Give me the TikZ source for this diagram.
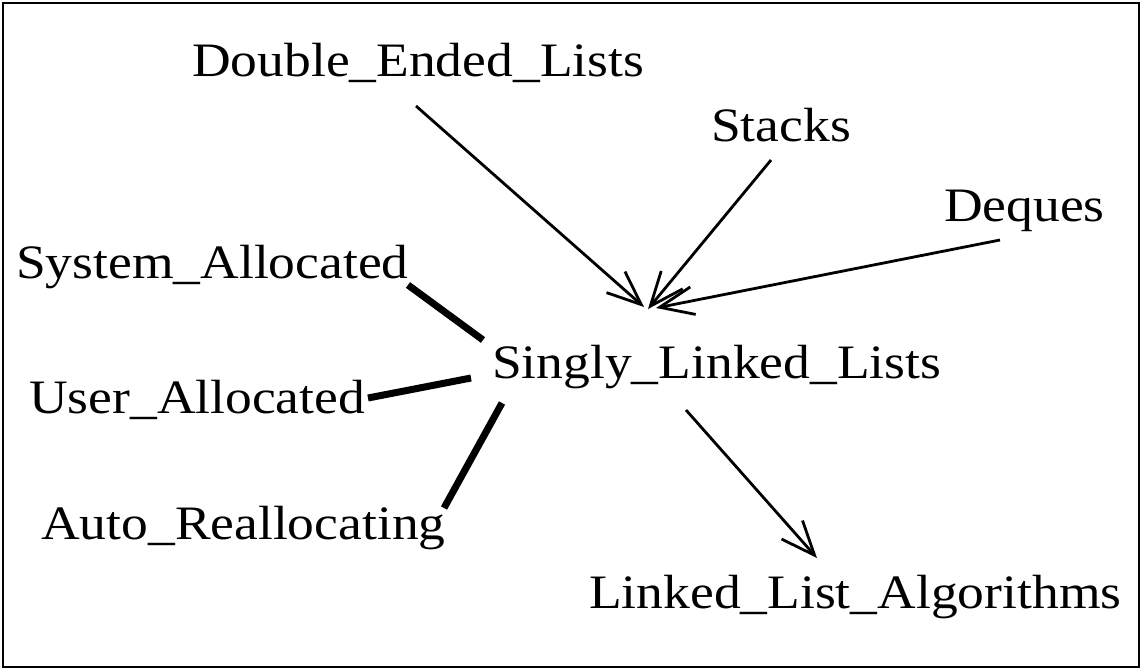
\documentclass[tikz,border=0pt]{standalone}
\usepackage{fontspec}
\setmainfont{Liberation Serif}[FakeStretch=1.115]
\usetikzlibrary{arrows.meta}
\begin{document}
\begin{tikzpicture}[x=1pt,y=-1pt,
  lbl/.style={anchor=base west,inner sep=0pt,font=\fontsize{48}{50}\selectfont},
  arr/.style={line width=2.8pt,-{Straight Barb[length=34pt,width=28pt,line width=2.8pt]}},
  thick link/.style={line width=7pt}]
\useasboundingbox (0,0) rectangle (1141,670);
\draw[line width=2pt] (3,3) rectangle (1139,667);
\node[lbl] (del) at (192,76) {Double\_Ended\_Lists};
\node[lbl] (stk) at (711,141) {Stacks};
\node[lbl] (deq) at (944,221) {Deques};
\node[lbl] (sys) at (16,278) {System\_Allocated};
\node[lbl] (sll) at (492,378) {Singly\_Linked\_Lists};
\node[lbl] (usr) at (29,413) {User\_Allocated};
\node[lbl] (auto) at (41,539) {Auto\_Reallocating};
\node[lbl] (lla) at (589,608) {Linked\_List\_Algorithms};
% connector end points
\coordinate (delS) at (416,106);
\coordinate (stkS) at (771,160);
\coordinate (deqS) at (1000,240);
\coordinate (tipA) at (644,307);
\coordinate (tipB) at (648,309);
\coordinate (tipC) at (656,308);
\coordinate (sllB) at (686,410);
\coordinate (llaT) at (817,558);
\coordinate (sysE) at (408,285);
\coordinate (sllW1) at (483,340);
\coordinate (usrE) at (368,398);
\coordinate (sllW2) at (471,378);
\coordinate (autoE) at (444,508);
\coordinate (sllW3) at (502,403);
\draw[arr] (delS) -- (tipA);
\draw[arr] (stkS) -- (tipB);
\draw[arr] (deqS) -- (tipC);
\draw[arr] (sllB) -- (llaT);
\draw[thick link] (sysE) -- (sllW1);
\draw[thick link] (usrE) -- (sllW2);
\draw[thick link] (autoE) -- (sllW3);
\end{tikzpicture}
\end{document}
